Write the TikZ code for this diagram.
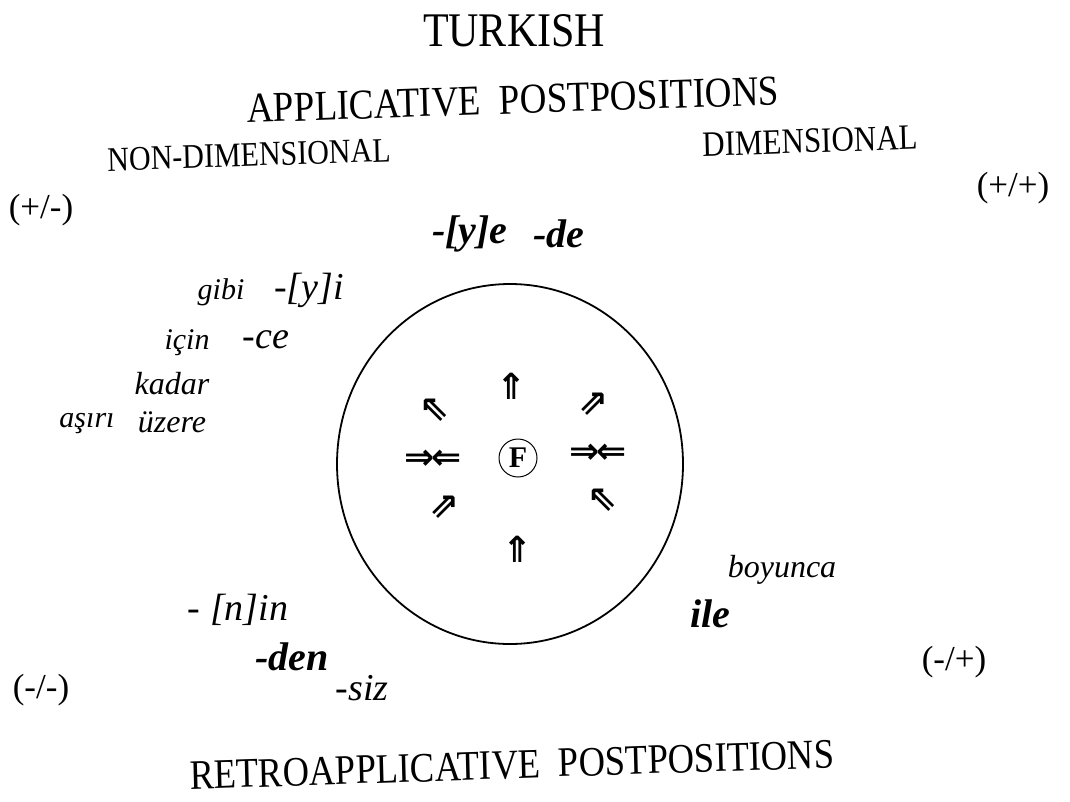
\documentclass[tikz,border=0pt]{standalone}
\usepackage{fontspec}
\setmainfont{Liberation Serif}
\newfontfamily\arrowfont{DejaVu Sans}
\newcommand{\fsz}[1]{\fontsize{#1}{#1}\selectfont}
\begin{document}
\begin{tikzpicture}[x=1pt,y=-1pt,
  caps/.style={inner sep=0pt, transform shape, yscale=1.15},
  tilt/.style={rotate=1.7},
  ital/.style={inner sep=0pt, font=\itshape},
  boldital/.style={inner sep=0pt, font=\bfseries\itshape},
  sign/.style={inner sep=0pt},
  arr/.style={inner sep=0pt, font=\arrowfont\bfseries\fsz{36}},
  rim/.style={line width=1.8pt}]
\useasboundingbox[fill=white] (0,0) rectangle (1070,801);
% titles
\node[caps] (turkish) at (514,31) {\fsz{42}TURKISH};
\node[caps,tilt] (appl) at (513,100) {\fsz{37}APPLICATIVE\ \ POSTPOSITIONS};
\node[caps,tilt] (nondim) at (249,155) {\fsz{30}NON-DIMENSIONAL};
\node[caps,tilt] (dim) at (810,141) {\fsz{31}DIMENSIONAL};
\node[caps,tilt] (retro) at (512,765) {\fsz{36.5}RETROAPPLICATIVE\ \ POSTPOSITIONS};
% quadrant signs
\node[sign] (pp) at (1013,188) {\fsz{35}(+/+)};
\node[sign] (pm) at (41,210) {\fsz{35}(+/-)};
\node[sign] (mp) at (954,662) {\fsz{35}(-/+)};
\node[sign] (mm) at (41,690) {\fsz{35}(-/-)};
% circle
\draw[rim] (510,464) ellipse [x radius=173, y radius=180];
% postpositions
\node[boldital] (ye) at (470,234) {\fsz{40}-[y]e};
\node[boldital] (de) at (559,234) {\fsz{40}-de};
\node[ital] (gibi) at (221,292) {\fsz{30}gibi};
\node[ital] (yi) at (309,290) {\fsz{38}-[y]i};
\node[ital] (icin) at (187,343) {\fsz{30}için};
\node[ital] (ce) at (266,340) {\fsz{38}-ce};
\node[ital] (kadar) at (172,384) {\fsz{32}kadar};
\node[ital] (asiri) at (87,424) {\fsz{30}aşırı};
\node[ital] (uzere) at (172,422) {\fsz{32}üzere};
\node[ital] (nin) at (238,610) {\fsz{38}- [n]in};
\node[boldital] (den) at (292,657) {\fsz{40}-den};
\node[ital] (siz) at (362,688) {\fsz{38}-siz};
\node[ital] (boyunca) at (782,570) {\fsz{32}boyunca};
\node[boldital] (ile) at (710,614) {\fsz{40}ile};
% inner arrows
\node[circle,draw,line width=1pt,inner sep=1pt,minimum size=38pt] (F) at (518,458) {\fsz{30}\bfseries F};
\node[arr] (up1) at (512,386) {⇑};
\node[arr] (up2) at (518,549) {⇑};
\node[arr] (nw1) at (435,410) {⇖};
\node[arr] (ne1) at (594,404) {⇗};
\node[arr] (ne2) at (445,507) {⇗};
\node[arr] (nw2) at (603,500) {⇖};
\node[arr] (lr1) at (433,460) {⇒\kern-3pt⇐};
\node[arr] (lr2) at (598,454) {⇒\kern-3pt⇐};
\end{tikzpicture}
\end{document}
